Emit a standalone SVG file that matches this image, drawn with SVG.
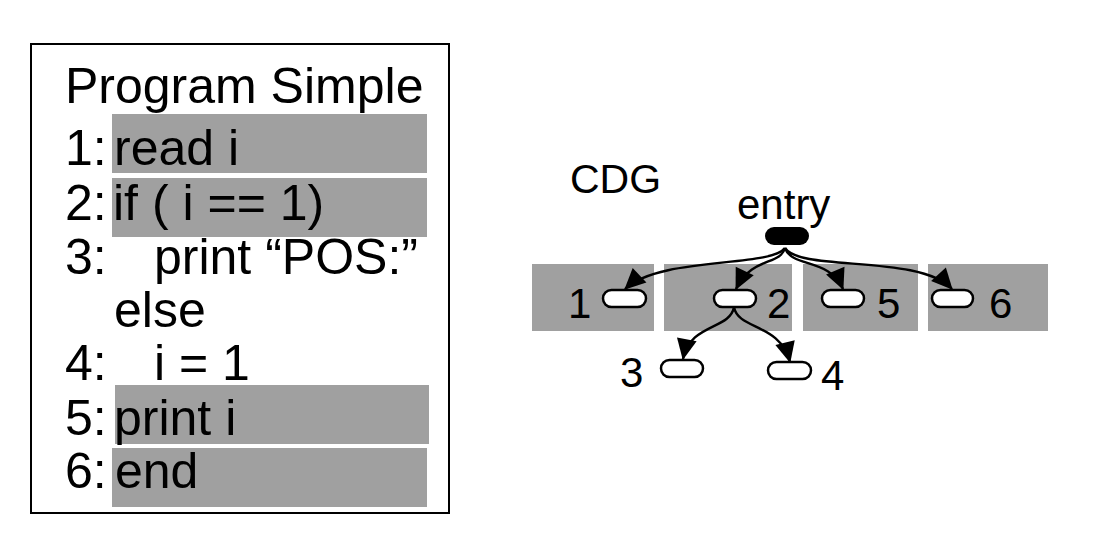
<svg xmlns="http://www.w3.org/2000/svg" width="1096" height="548" viewBox="0 0 1096 548">
<style>
  text { font-family: "Liberation Sans", Arial, sans-serif; fill: #000; }
  .code { font-size: 50px; }
  .lbl { font-size: 42px; }
  .band { fill: #a0a0a0; }
  .pill { fill: #fff; stroke: #000; stroke-width: 2.5; }
  .edge { fill: none; stroke: #000; stroke-width: 2.4; marker-end: url(#arr); }
</style>
<defs>
  <marker id="arr" markerUnits="userSpaceOnUse" markerWidth="21" markerHeight="20" refX="20" refY="10" orient="auto" overflow="visible">
    <path d="M0,0 L21,10 L0,20 z" fill="#000"/>
  </marker>
</defs>
<rect width="1096" height="548" fill="#fff"/>

<g id="program">
  <rect x="31" y="44" width="418" height="469" fill="none" stroke="#000" stroke-width="2"/>
  <rect class="band" x="112" y="114" width="315" height="59"/>
  <rect class="band" x="112" y="178" width="315" height="59"/>
  <rect class="band" x="115" y="385" width="314" height="59"/>
  <rect class="band" x="112" y="448" width="315" height="59"/>
  <text class="code" x="65" y="103">Program Simple</text>
  <text class="code" x="65" y="165">1:</text>
  <text class="code" x="114" y="165">read i</text>
  <text class="code" x="65" y="220">2:</text>
  <text class="code" x="113" y="220">if ( i == 1)</text>
  <text class="code" x="65" y="274">3:</text>
  <text class="code" x="154" y="274">print “POS:”</text>
  <text class="code" x="114" y="327">else</text>
  <text class="code" x="65" y="380">4:</text>
  <text class="code" x="154" y="380">i = 1</text>
  <text class="code" x="65" y="435">5:</text>
  <text class="code" x="114" y="435">print i</text>
  <text class="code" x="65" y="488">6:</text>
  <text class="code" x="115" y="488">end</text>
</g>

<text x="570" y="193" style="font-size:41px">CDG</text>

<g id="regions">
  <rect class="band" x="532" y="264" width="122" height="67"/>
  <rect class="band" x="664" y="264" width="128" height="67"/>
  <rect class="band" x="803" y="264" width="115" height="67"/>
  <rect class="band" x="928" y="264" width="120" height="67"/>
</g>

<g id="connectors">
  <path class="edge" d="M785,248 C770,268 660,256 625,289"/>
  <path class="edge" d="M785,248 C780,266 752,256 736,289"/>
  <path class="edge" d="M785,248 C792,268 830,258 843,289"/>
  <path class="edge" d="M785,248 C800,272 920,254 952,289"/>
  <path class="edge" d="M734,307 C730,330 690,323 683,359"/>
  <path class="edge" d="M734,307 C738,330 780,323 790,362"/>
</g>

<g id="entry">
  <rect x="765" y="227" width="44" height="18" rx="9" fill="#000"/>
  <text x="737" y="219" style="font-size:42px">entry</text>
</g>
<g id="n1">
  <rect class="pill" x="603" y="290" width="43" height="17" rx="8.5"/>
  <text class="lbl" x="568" y="318">1</text>
</g>
<g id="n2">
  <rect class="pill" x="714" y="290" width="42" height="17" rx="8.5"/>
  <text class="lbl" x="767" y="318">2</text>
</g>
<g id="n5">
  <rect class="pill" x="822" y="290" width="42" height="17" rx="8.5"/>
  <text class="lbl" x="877" y="318">5</text>
</g>
<g id="n6">
  <rect class="pill" x="932" y="290" width="41" height="17" rx="8.5"/>
  <text class="lbl" x="989" y="318">6</text>
</g>
<g id="n3">
  <rect class="pill" x="661" y="360" width="42" height="17" rx="8.5"/>
  <text class="lbl" x="620" y="387">3</text>
</g>
<g id="n4">
  <rect class="pill" x="768" y="362" width="43" height="17" rx="8.5"/>
  <text class="lbl" x="821" y="390">4</text>
</g>
</svg>
